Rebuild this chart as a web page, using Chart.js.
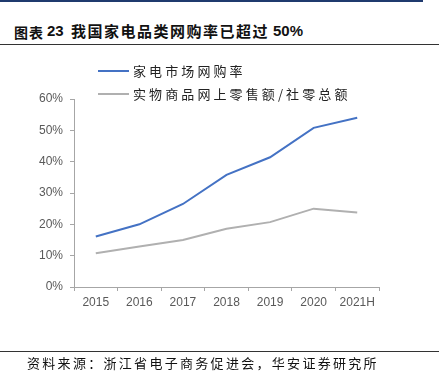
<!DOCTYPE html>
<html>
<head>
<meta charset="utf-8">
<script src="https://cdn.jsdelivr.net/npm/chart.js@4.4.0/dist/chart.umd.min.js"></script>
<style>
  html, body { margin: 0; padding: 0; background: #fff; }
  body { width: 439px; height: 373px; position: relative; overflow: hidden; font-family: "Noto Sans CJK SC", sans-serif; }
  #topbar { position: absolute; left: 0; top: 0; width: 423px; height: 2px; background: #1f3a6e; }
  .t { position: absolute; top: 21px; font-size: 15px; font-weight: bold; color: #111; letter-spacing: 1.5px; white-space: nowrap; line-height: 20px; }
  .t.n { font-family: "Liberation Sans", Arial, sans-serif; letter-spacing: 0; font-size: 15px; }
  #rule1 { position: absolute; left: 0; top: 44px; width: 439px; height: 1px; background: #333; }
  #rule2 { position: absolute; left: 0; top: 351px; width: 439px; height: 1px; background: #333; }
  #source { position: absolute; left: 27px; top: 354px; font-size: 13px; color: #111; letter-spacing: 2.3px; white-space: nowrap; line-height: 18px; }
  .leg { position: absolute; left: 98px; height: 18px; white-space: nowrap; font-size: 13px; color: #222; letter-spacing: 3.1px; line-height: 18px; }
  .leg i { display: inline-block; width: 31px; height: 2px; vertical-align: middle; margin-right: 4px; position: relative; top: -1px; }
  #chartwrap { position: absolute; left: 0; top: 0; width: 439px; height: 373px; }
</style>
</head>
<body>
<div id="topbar"></div>
<div id="title">
  <span class="t" style="left:14px;font-size:14px;letter-spacing:1px;top:22px">图表</span>
  <span class="t n" style="left:47px">23</span>
  <span class="t" style="left:71px">我国家电品类网购率已超过</span>
  <span class="t n" style="left:273px">50%</span>
</div>
<div id="rule1"></div>
<div id="chartwrap"><canvas id="c" width="439" height="373"></canvas></div>
<div id="legend"></div>
<div id="rule2"></div>
<div id="source">资料来源：浙江省电子商务促进会，华安证券研究所</div>
<script>
const categories = ["2015", "2016", "2017", "2018", "2019", "2020", "2021H"];
const seriesNames = ["家电市场网购率", "实物商品网上零售额/社零总额"];
const applianceOnlineRate = [16.1, 20.0, 26.5, 35.8, 41.4, 50.8, 54.0];
const physicalOnlineShare = [10.8, 12.9, 15.0, 18.6, 20.7, 25.0, 23.8];
const yTicks = [0, 10, 20, 30, 40, 50, 60];
const seriesColors = ["#4472C4", "#B0B0B0"];

// HTML legend
const legendEl = document.getElementById('legend');
const legendTops = [62, 85];
seriesNames.forEach((name, i) => {
  const d = document.createElement('div');
  d.className = 'leg';
  d.style.top = legendTops[i] + 'px';
  d.innerHTML = '<i style="background:' + seriesColors[i] + '"></i>' + name;
  legendEl.appendChild(d);
});

const axisColor = '#A6A6A6';
const tickFont = { family: '"Liberation Sans", Arial, sans-serif', size: 12 };

new Chart(document.getElementById('c'), {
  type: 'line',
  data: {
    labels: categories,
    datasets: [
      { label: seriesNames[0], data: applianceOnlineRate, borderColor: seriesColors[0], borderWidth: 2, pointRadius: 0, tension: 0, fill: false },
      { label: seriesNames[1], data: physicalOnlineShare, borderColor: seriesColors[1], borderWidth: 2, pointRadius: 0, tension: 0, fill: false }
    ]
  },
  options: {
    responsive: false,
    animation: false,
    devicePixelRatio: 1,
    layout: { padding: { top: 99, right: 60, bottom: 0, left: 0 } },
    plugins: { legend: { display: false }, tooltip: { enabled: false }, title: { display: false } },
    scales: {
      x: {
        type: 'category',
        offset: true,
        grid: { display: true, drawOnChartArea: false, drawTicks: true, tickLength: 4, color: axisColor, offset: true },
        border: { display: true, color: axisColor, width: 1 },
        ticks: { color: '#595959', font: tickFont, padding: 4, maxRotation: 0, autoSkip: false },
        afterFit: (s) => { s.height = 373 - 287; }
      },
      y: {
        min: 0, max: 60,
        afterBuildTicks: (s) => { s.ticks = yTicks.map(v => ({ value: v })); },
        grid: { display: true, drawOnChartArea: false, drawTicks: true, tickLength: 4, color: axisColor },
        border: { display: true, color: axisColor, width: 1 },
        ticks: { color: '#595959', font: tickFont, padding: 7, callback: (v) => v + '%' },
        afterFit: (s) => { s.width = 74; }
      }
    }
  }
});
</script>
</body>
</html>
